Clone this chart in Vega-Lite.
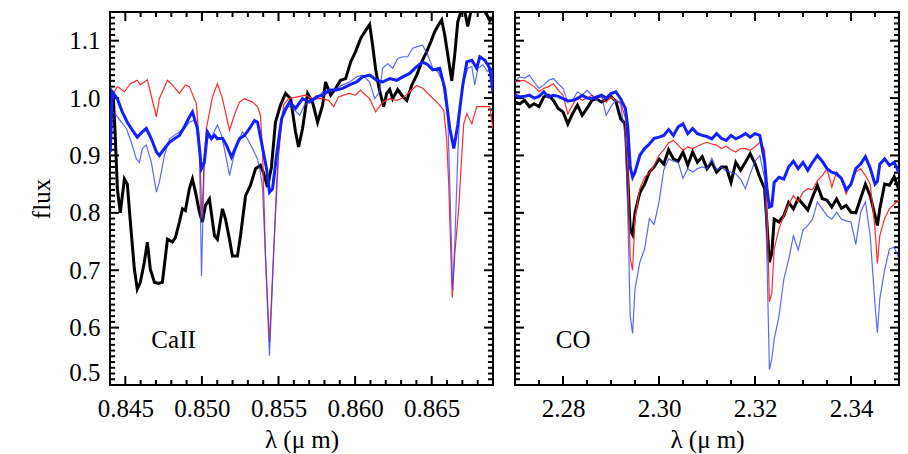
{
"$schema": "https://vega.github.io/schema/vega-lite/v6.json",
"background": "white",
"padding": {"left": 28, "top": 10, "right": 5, "bottom": 0},
"spacing": 18,
"config": {
 "view": {"stroke": "black", "strokeWidth": 2},
 "font": "Liberation Serif, Times New Roman, serif",
 "axis": {"domain": false, "ticks": false, "grid": false, "labelFont": "Liberation Serif, Times New Roman, serif", "labelFontSize": 25, "labelColor": "black", "titleFont": "Liberation Serif, Times New Roman, serif", "titleFontSize": 25, "titleFontWeight": "normal", "titleColor": "black"}
},
"datasets": {
 "L_xmaj": [{"v":0.845},{"v":0.85},{"v":0.855},{"v":0.86},{"v":0.865}],
 "L_xmin": [{"v":0.846},{"v":0.847},{"v":0.848},{"v":0.849},{"v":0.851},{"v":0.852},{"v":0.853},{"v":0.854},{"v":0.856},{"v":0.857},{"v":0.858},{"v":0.859},{"v":0.861},{"v":0.862},{"v":0.863},{"v":0.864},{"v":0.866},{"v":0.867},{"v":0.868}],
 "R_xmaj": [{"v":2.28},{"v":2.3},{"v":2.32},{"v":2.34}],
 "R_xmin": [{"v":2.275},{"v":2.285},{"v":2.29},{"v":2.295},{"v":2.305},{"v":2.31},{"v":2.315},{"v":2.325},{"v":2.33},{"v":2.335},{"v":2.345}],
 "Y_maj": [{"v":0.6},{"v":0.7},{"v":0.8},{"v":0.9},{"v":1.0},{"v":1.1}],
 "Y_min": [{"v":0.51},{"v":0.52},{"v":0.53},{"v":0.54},{"v":0.55},{"v":0.56},{"v":0.57},{"v":0.58},{"v":0.59},{"v":0.61},{"v":0.62},{"v":0.63},{"v":0.64},{"v":0.65},{"v":0.66},{"v":0.67},{"v":0.68},{"v":0.69},{"v":0.71},{"v":0.72},{"v":0.73},{"v":0.74},{"v":0.75},{"v":0.76},{"v":0.77},{"v":0.78},{"v":0.79},{"v":0.81},{"v":0.82},{"v":0.83},{"v":0.84},{"v":0.85},{"v":0.86},{"v":0.87},{"v":0.88},{"v":0.89},{"v":0.91},{"v":0.92},{"v":0.93},{"v":0.94},{"v":0.95},{"v":0.96},{"v":0.97},{"v":0.98},{"v":0.99},{"v":1.01},{"v":1.02},{"v":1.03},{"v":1.04},{"v":1.05},{"v":1.06},{"v":1.07},{"v":1.08},{"v":1.09},{"v":1.11},{"v":1.12},{"v":1.13},{"v":1.14}],
 "L_black": [{"x":0.84395,"y":0.95},{"x":0.84409,"y":0.988},{"x":0.84422,"y":0.999},{"x":0.84435,"y":0.93},{"x":0.84448,"y":0.842},{"x":0.84467,"y":0.8},{"x":0.84494,"y":0.859},{"x":0.84513,"y":0.85},{"x":0.84533,"y":0.784},{"x":0.84559,"y":0.702},{"x":0.84578,"y":0.667},{"x":0.84598,"y":0.679},{"x":0.84624,"y":0.714},{"x":0.84644,"y":0.749},{"x":0.84663,"y":0.702},{"x":0.8469,"y":0.679},{"x":0.84716,"y":0.677},{"x":0.84742,"y":0.679},{"x":0.84775,"y":0.754},{"x":0.84807,"y":0.749},{"x":0.84827,"y":0.757},{"x":0.84853,"y":0.784},{"x":0.84873,"y":0.807},{"x":0.84892,"y":0.804},{"x":0.84918,"y":0.842},{"x":0.84938,"y":0.859},{"x":0.84958,"y":0.836},{"x":0.84984,"y":0.801},{"x":0.85003,"y":0.784},{"x":0.85023,"y":0.813},{"x":0.85049,"y":0.824},{"x":0.85082,"y":0.76},{"x":0.85101,"y":0.754},{"x":0.85134,"y":0.807},{"x":0.85154,"y":0.789},{"x":0.8518,"y":0.754},{"x":0.85199,"y":0.725},{"x":0.85232,"y":0.725},{"x":0.85252,"y":0.76},{"x":0.85285,"y":0.83},{"x":0.85317,"y":0.848},{"x":0.8535,"y":0.877},{"x":0.85382,"y":0.883},{"x":0.85402,"y":0.87},{"x":0.85428,"y":0.845},{"x":0.85454,"y":0.88},{"x":0.8548,"y":0.958},{"x":0.85513,"y":0.988},{"x":0.85546,"y":1.008},{"x":0.85579,"y":0.999},{"x":0.85611,"y":0.941},{"x":0.85631,"y":0.915},{"x":0.85657,"y":0.947},{"x":0.8569,"y":1.008},{"x":0.85722,"y":0.993},{"x":0.85755,"y":0.958},{"x":0.85788,"y":0.988},{"x":0.85807,"y":1.028},{"x":0.8584,"y":1.005},{"x":0.85873,"y":1.017},{"x":0.85905,"y":1.031},{"x":0.85938,"y":1.034},{"x":0.85971,"y":1.063},{"x":0.86003,"y":1.081},{"x":0.86036,"y":1.104},{"x":0.86069,"y":1.118},{"x":0.86095,"y":1.128},{"x":0.86114,"y":1.092},{"x":0.86134,"y":1.05},{"x":0.86154,"y":1.02},{"x":0.86186,"y":0.985},{"x":0.86206,"y":1.008},{"x":0.86226,"y":1.015},{"x":0.86245,"y":0.999},{"x":0.86278,"y":1.015},{"x":0.86304,"y":1.005},{"x":0.86337,"y":0.996},{"x":0.86369,"y":1.022},{"x":0.86402,"y":1.04},{"x":0.86435,"y":1.063},{"x":0.86467,"y":1.081},{"x":0.86494,"y":1.098},{"x":0.8652,"y":1.116},{"x":0.86539,"y":1.125},{"x":0.86565,"y":1.136},{"x":0.86585,"y":1.11},{"x":0.86605,"y":1.075},{"x":0.86631,"y":1.03},{"x":0.86651,"y":1.078},{"x":0.8667,"y":1.133},{"x":0.8669,"y":1.15},{"x":0.86709,"y":1.16},{"x":0.86735,"y":1.125},{"x":0.86755,"y":1.15},{"x":0.86788,"y":1.16},{"x":0.8682,"y":1.16},{"x":0.8686,"y":1.145},{"x":0.86879,"y":1.135},{"x":0.86899,"y":1.14}],
 "L_red": [{"x":0.84395,"y":0.964},{"x":0.84428,"y":1.011},{"x":0.84448,"y":1.02},{"x":0.84494,"y":1.011},{"x":0.84533,"y":1.025},{"x":0.84578,"y":1.031},{"x":0.84598,"y":1.023},{"x":0.84644,"y":1.032},{"x":0.84663,"y":1.011},{"x":0.84703,"y":0.967},{"x":0.84722,"y":0.999},{"x":0.84775,"y":1.031},{"x":0.84807,"y":1.023},{"x":0.84853,"y":1.008},{"x":0.84892,"y":1.023},{"x":0.84918,"y":1.02},{"x":0.84964,"y":0.99},{"x":0.84984,"y":0.92},{"x":0.85,"y":0.79},{"x":0.85016,"y":0.9},{"x":0.85029,"y":0.947},{"x":0.85069,"y":1.002},{"x":0.85101,"y":1.025},{"x":0.85134,"y":0.999},{"x":0.8518,"y":0.944},{"x":0.85212,"y":0.97},{"x":0.85245,"y":0.993},{"x":0.85278,"y":0.999},{"x":0.8533,"y":0.993},{"x":0.85363,"y":0.985},{"x":0.85382,"y":0.97},{"x":0.85396,"y":0.904},{"x":0.85415,"y":0.726},{"x":0.85441,"y":0.574},{"x":0.85467,"y":0.726},{"x":0.855,"y":0.9},{"x":0.85533,"y":0.988},{"x":0.85565,"y":0.999},{"x":0.85624,"y":1.002},{"x":0.85677,"y":1.005},{"x":0.85722,"y":0.999},{"x":0.85788,"y":0.999},{"x":0.85827,"y":0.996},{"x":0.8586,"y":0.985},{"x":0.85892,"y":1.002},{"x":0.85958,"y":1.008},{"x":0.86003,"y":1.005},{"x":0.86036,"y":1.014},{"x":0.86069,"y":1.005},{"x":0.86095,"y":0.999},{"x":0.86134,"y":0.976},{"x":0.8618,"y":0.993},{"x":0.86226,"y":0.999},{"x":0.86271,"y":0.996},{"x":0.86311,"y":1.0},{"x":0.86356,"y":1.011},{"x":0.86402,"y":1.022},{"x":0.86441,"y":1.017},{"x":0.86487,"y":1.005},{"x":0.86533,"y":0.993},{"x":0.86579,"y":0.979},{"x":0.86598,"y":0.926},{"x":0.86611,"y":0.85},{"x":0.86634,"y":0.652},{"x":0.86651,"y":0.73},{"x":0.86677,"y":0.81},{"x":0.86696,"y":0.9},{"x":0.86709,"y":0.955},{"x":0.86729,"y":0.973},{"x":0.86762,"y":0.955},{"x":0.86794,"y":0.985},{"x":0.8684,"y":0.985},{"x":0.86879,"y":0.985},{"x":0.86899,"y":0.947}],
 "L_bthin": [{"x":0.84402,"y":0.9},{"x":0.84415,"y":0.976},{"x":0.84441,"y":0.97},{"x":0.84474,"y":0.958},{"x":0.84507,"y":0.947},{"x":0.84539,"y":0.923},{"x":0.84572,"y":0.894},{"x":0.84592,"y":0.888},{"x":0.84611,"y":0.912},{"x":0.84637,"y":0.918},{"x":0.8467,"y":0.888},{"x":0.84703,"y":0.836},{"x":0.84722,"y":0.853},{"x":0.84755,"y":0.9},{"x":0.84788,"y":0.929},{"x":0.8482,"y":0.935},{"x":0.84853,"y":0.941},{"x":0.84886,"y":0.947},{"x":0.84918,"y":0.958},{"x":0.84958,"y":0.962},{"x":0.84984,"y":0.906},{"x":0.84997,"y":0.69},{"x":0.85016,"y":0.894},{"x":0.85036,"y":0.929},{"x":0.85069,"y":0.935},{"x":0.85101,"y":0.953},{"x":0.85128,"y":0.935},{"x":0.8516,"y":0.894},{"x":0.8518,"y":0.865},{"x":0.85199,"y":0.888},{"x":0.85232,"y":0.923},{"x":0.85265,"y":0.941},{"x":0.85297,"y":0.929},{"x":0.8533,"y":0.912},{"x":0.85363,"y":0.894},{"x":0.85382,"y":0.87},{"x":0.85396,"y":0.842},{"x":0.85415,"y":0.72},{"x":0.85441,"y":0.551},{"x":0.85467,"y":0.72},{"x":0.85487,"y":0.85},{"x":0.85507,"y":0.935},{"x":0.85526,"y":0.976},{"x":0.85552,"y":0.988},{"x":0.85592,"y":0.982},{"x":0.85638,"y":0.97},{"x":0.8567,"y":0.988},{"x":0.85703,"y":0.993},{"x":0.85748,"y":0.999},{"x":0.85788,"y":1.011},{"x":0.85834,"y":1.011},{"x":0.85879,"y":1.017},{"x":0.85918,"y":1.023},{"x":0.85964,"y":1.028},{"x":0.8601,"y":1.037},{"x":0.86049,"y":1.04},{"x":0.86095,"y":1.028},{"x":0.86128,"y":0.999},{"x":0.8616,"y":1.011},{"x":0.8618,"y":1.052},{"x":0.86213,"y":1.06},{"x":0.86245,"y":1.052},{"x":0.86278,"y":1.069},{"x":0.86311,"y":1.072},{"x":0.86343,"y":1.072},{"x":0.86376,"y":1.087},{"x":0.86409,"y":1.09},{"x":0.86441,"y":1.092},{"x":0.86474,"y":1.075},{"x":0.86507,"y":1.052},{"x":0.86539,"y":1.046},{"x":0.86572,"y":1.028},{"x":0.86605,"y":0.964},{"x":0.86618,"y":0.85},{"x":0.86637,"y":0.665},{"x":0.86651,"y":0.75},{"x":0.8667,"y":0.9},{"x":0.86683,"y":0.976},{"x":0.86703,"y":1.023},{"x":0.86735,"y":1.052},{"x":0.86762,"y":1.055},{"x":0.86781,"y":1.023},{"x":0.86801,"y":1.052},{"x":0.86833,"y":1.058},{"x":0.86866,"y":1.046},{"x":0.86892,"y":1.052},{"x":0.86899,"y":1.03}],
 "L_bthick": [{"x":0.84402,"y":0.906},{"x":0.84415,"y":1.011},{"x":0.84448,"y":0.999},{"x":0.8448,"y":0.976},{"x":0.84513,"y":0.958},{"x":0.84546,"y":0.944},{"x":0.84578,"y":0.932},{"x":0.84611,"y":0.941},{"x":0.84637,"y":0.947},{"x":0.8467,"y":0.929},{"x":0.84703,"y":0.906},{"x":0.84722,"y":0.9},{"x":0.84755,"y":0.912},{"x":0.84788,"y":0.923},{"x":0.8482,"y":0.929},{"x":0.84853,"y":0.935},{"x":0.84886,"y":0.95},{"x":0.84918,"y":0.967},{"x":0.84938,"y":0.976},{"x":0.84971,"y":0.947},{"x":0.84997,"y":0.877},{"x":0.85016,"y":0.888},{"x":0.85036,"y":0.941},{"x":0.85062,"y":0.929},{"x":0.85082,"y":0.935},{"x":0.85101,"y":0.929},{"x":0.85134,"y":0.93},{"x":0.8516,"y":0.918},{"x":0.85193,"y":0.897},{"x":0.85212,"y":0.909},{"x":0.85245,"y":0.929},{"x":0.85278,"y":0.935},{"x":0.85311,"y":0.947},{"x":0.85343,"y":0.961},{"x":0.85363,"y":0.958},{"x":0.85389,"y":0.923},{"x":0.85422,"y":0.877},{"x":0.85441,"y":0.836},{"x":0.85461,"y":0.842},{"x":0.85487,"y":0.9},{"x":0.8552,"y":0.964},{"x":0.85546,"y":0.98},{"x":0.85572,"y":0.993},{"x":0.85611,"y":0.982},{"x":0.85657,"y":0.999},{"x":0.85703,"y":0.993},{"x":0.85748,"y":1.002},{"x":0.85788,"y":1.005},{"x":0.85834,"y":1.014},{"x":0.85879,"y":1.014},{"x":0.85918,"y":1.017},{"x":0.85964,"y":1.023},{"x":0.8601,"y":1.028},{"x":0.86049,"y":1.037},{"x":0.86095,"y":1.04},{"x":0.86141,"y":1.031},{"x":0.8618,"y":1.028},{"x":0.86226,"y":1.034},{"x":0.86271,"y":1.031},{"x":0.86311,"y":1.037},{"x":0.86356,"y":1.043},{"x":0.86402,"y":1.055},{"x":0.86441,"y":1.063},{"x":0.86474,"y":1.058},{"x":0.86507,"y":1.049},{"x":0.86552,"y":1.052},{"x":0.86585,"y":1.017},{"x":0.86618,"y":0.947},{"x":0.86644,"y":0.912},{"x":0.8667,"y":0.953},{"x":0.86703,"y":1.023},{"x":0.86729,"y":1.063},{"x":0.86762,"y":1.066},{"x":0.86794,"y":1.052},{"x":0.86814,"y":1.072},{"x":0.86847,"y":1.066},{"x":0.86879,"y":1.052},{"x":0.86899,"y":1.011}],
 "R_black": [{"x":2.27,"y":0.993},{"x":2.271,"y":0.99},{"x":2.272,"y":0.996},{"x":2.273,"y":0.985},{"x":2.274,"y":0.99},{"x":2.275,"y":0.985},{"x":2.276,"y":1.002},{"x":2.277,"y":1.005},{"x":2.278,"y":0.996},{"x":2.279,"y":0.982},{"x":2.28,"y":0.976},{"x":2.281,"y":0.955},{"x":2.282,"y":0.973},{"x":2.283,"y":0.988},{"x":2.284,"y":0.97},{"x":2.285,"y":0.982},{"x":2.286,"y":0.996},{"x":2.287,"y":0.999},{"x":2.288,"y":0.993},{"x":2.289,"y":0.997},{"x":2.29,"y":1.003},{"x":2.291,"y":0.995},{"x":2.292,"y":0.964},{"x":2.293,"y":0.955},{"x":2.2935,"y":0.86},{"x":2.294,"y":0.77},{"x":2.2945,"y":0.762},{"x":2.295,"y":0.8},{"x":2.296,"y":0.835},{"x":2.297,"y":0.85},{"x":2.298,"y":0.871},{"x":2.299,"y":0.88},{"x":2.3,"y":0.894},{"x":2.301,"y":0.885},{"x":2.302,"y":0.91},{"x":2.303,"y":0.894},{"x":2.304,"y":0.89},{"x":2.305,"y":0.906},{"x":2.306,"y":0.883},{"x":2.307,"y":0.906},{"x":2.308,"y":0.888},{"x":2.309,"y":0.898},{"x":2.31,"y":0.877},{"x":2.311,"y":0.888},{"x":2.312,"y":0.871},{"x":2.313,"y":0.88},{"x":2.314,"y":0.88},{"x":2.315,"y":0.853},{"x":2.316,"y":0.888},{"x":2.317,"y":0.874},{"x":2.318,"y":0.888},{"x":2.319,"y":0.903},{"x":2.32,"y":0.886},{"x":2.321,"y":0.862},{"x":2.322,"y":0.842},{"x":2.3225,"y":0.78},{"x":2.323,"y":0.714},{"x":2.3235,"y":0.73},{"x":2.324,"y":0.789},{"x":2.325,"y":0.784},{"x":2.326,"y":0.795},{"x":2.327,"y":0.818},{"x":2.328,"y":0.807},{"x":2.329,"y":0.825},{"x":2.33,"y":0.815},{"x":2.331,"y":0.805},{"x":2.332,"y":0.828},{"x":2.333,"y":0.848},{"x":2.334,"y":0.825},{"x":2.335,"y":0.822},{"x":2.336,"y":0.81},{"x":2.337,"y":0.824},{"x":2.338,"y":0.808},{"x":2.339,"y":0.813},{"x":2.34,"y":0.801},{"x":2.341,"y":0.8},{"x":2.342,"y":0.825},{"x":2.343,"y":0.85},{"x":2.344,"y":0.83},{"x":2.345,"y":0.795},{"x":2.3455,"y":0.778},{"x":2.346,"y":0.807},{"x":2.347,"y":0.85},{"x":2.348,"y":0.848},{"x":2.349,"y":0.863},{"x":2.35,"y":0.84}],
 "R_red": [{"x":2.27,"y":1.028},{"x":2.271,"y":1.03},{"x":2.272,"y":1.031},{"x":2.273,"y":1.025},{"x":2.274,"y":1.02},{"x":2.275,"y":1.011},{"x":2.276,"y":1.017},{"x":2.277,"y":1.02},{"x":2.278,"y":1.025},{"x":2.279,"y":1.014},{"x":2.28,"y":1.005},{"x":2.281,"y":0.972},{"x":2.282,"y":0.988},{"x":2.283,"y":1.002},{"x":2.284,"y":0.996},{"x":2.285,"y":1.0},{"x":2.286,"y":1.005},{"x":2.287,"y":1.0},{"x":2.288,"y":1.002},{"x":2.289,"y":0.993},{"x":2.29,"y":1.002},{"x":2.291,"y":0.995},{"x":2.292,"y":0.993},{"x":2.293,"y":0.965},{"x":2.2935,"y":0.88},{"x":2.294,"y":0.72},{"x":2.2945,"y":0.7},{"x":2.295,"y":0.79},{"x":2.296,"y":0.842},{"x":2.297,"y":0.862},{"x":2.298,"y":0.87},{"x":2.299,"y":0.883},{"x":2.3,"y":0.9},{"x":2.301,"y":0.91},{"x":2.302,"y":0.922},{"x":2.303,"y":0.926},{"x":2.304,"y":0.918},{"x":2.305,"y":0.909},{"x":2.306,"y":0.915},{"x":2.307,"y":0.912},{"x":2.308,"y":0.916},{"x":2.309,"y":0.92},{"x":2.31,"y":0.923},{"x":2.311,"y":0.92},{"x":2.312,"y":0.918},{"x":2.313,"y":0.912},{"x":2.314,"y":0.916},{"x":2.315,"y":0.91},{"x":2.316,"y":0.906},{"x":2.317,"y":0.912},{"x":2.318,"y":0.912},{"x":2.319,"y":0.909},{"x":2.32,"y":0.915},{"x":2.321,"y":0.923},{"x":2.322,"y":0.91},{"x":2.3225,"y":0.8},{"x":2.323,"y":0.645},{"x":2.3235,"y":0.66},{"x":2.324,"y":0.737},{"x":2.325,"y":0.772},{"x":2.326,"y":0.795},{"x":2.327,"y":0.815},{"x":2.328,"y":0.83},{"x":2.329,"y":0.819},{"x":2.33,"y":0.836},{"x":2.331,"y":0.842},{"x":2.332,"y":0.84},{"x":2.333,"y":0.856},{"x":2.334,"y":0.865},{"x":2.335,"y":0.877},{"x":2.336,"y":0.845},{"x":2.337,"y":0.871},{"x":2.338,"y":0.859},{"x":2.339,"y":0.833},{"x":2.34,"y":0.853},{"x":2.341,"y":0.871},{"x":2.342,"y":0.877},{"x":2.343,"y":0.865},{"x":2.344,"y":0.85},{"x":2.345,"y":0.772},{"x":2.3455,"y":0.712},{"x":2.346,"y":0.76},{"x":2.347,"y":0.79},{"x":2.348,"y":0.807},{"x":2.349,"y":0.815},{"x":2.35,"y":0.822}],
 "R_bthin": [{"x":2.27,"y":1.03},{"x":2.271,"y":1.037},{"x":2.272,"y":1.035},{"x":2.273,"y":1.04},{"x":2.274,"y":1.028},{"x":2.275,"y":1.017},{"x":2.276,"y":1.023},{"x":2.277,"y":1.031},{"x":2.278,"y":1.034},{"x":2.279,"y":1.025},{"x":2.28,"y":1.017},{"x":2.281,"y":0.993},{"x":2.282,"y":0.996},{"x":2.283,"y":1.011},{"x":2.284,"y":1.005},{"x":2.285,"y":1.014},{"x":2.286,"y":1.005},{"x":2.287,"y":0.996},{"x":2.288,"y":1.005},{"x":2.289,"y":0.97},{"x":2.29,"y":0.985},{"x":2.291,"y":0.997},{"x":2.292,"y":0.99},{"x":2.293,"y":0.93},{"x":2.2935,"y":0.8},{"x":2.294,"y":0.62},{"x":2.2945,"y":0.59},{"x":2.295,"y":0.667},{"x":2.296,"y":0.714},{"x":2.297,"y":0.737},{"x":2.298,"y":0.79},{"x":2.299,"y":0.78},{"x":2.3,"y":0.819},{"x":2.301,"y":0.875},{"x":2.302,"y":0.894},{"x":2.303,"y":0.89},{"x":2.304,"y":0.888},{"x":2.305,"y":0.86},{"x":2.306,"y":0.877},{"x":2.307,"y":0.871},{"x":2.308,"y":0.877},{"x":2.309,"y":0.88},{"x":2.31,"y":0.877},{"x":2.311,"y":0.895},{"x":2.312,"y":0.875},{"x":2.313,"y":0.88},{"x":2.314,"y":0.872},{"x":2.315,"y":0.871},{"x":2.316,"y":0.868},{"x":2.317,"y":0.859},{"x":2.318,"y":0.842},{"x":2.319,"y":0.868},{"x":2.32,"y":0.89},{"x":2.321,"y":0.9},{"x":2.322,"y":0.86},{"x":2.3225,"y":0.72},{"x":2.323,"y":0.527},{"x":2.3235,"y":0.545},{"x":2.324,"y":0.58},{"x":2.325,"y":0.62},{"x":2.326,"y":0.684},{"x":2.327,"y":0.718},{"x":2.328,"y":0.76},{"x":2.329,"y":0.735},{"x":2.33,"y":0.77},{"x":2.331,"y":0.778},{"x":2.332,"y":0.789},{"x":2.333,"y":0.819},{"x":2.334,"y":0.807},{"x":2.335,"y":0.795},{"x":2.336,"y":0.789},{"x":2.337,"y":0.801},{"x":2.338,"y":0.789},{"x":2.339,"y":0.786},{"x":2.34,"y":0.784},{"x":2.341,"y":0.745},{"x":2.342,"y":0.801},{"x":2.343,"y":0.819},{"x":2.344,"y":0.76},{"x":2.345,"y":0.64},{"x":2.3455,"y":0.591},{"x":2.346,"y":0.65},{"x":2.347,"y":0.7},{"x":2.348,"y":0.737},{"x":2.349,"y":0.74},{"x":2.35,"y":0.72}],
 "R_bthick": [{"x":2.27,"y":1.005},{"x":2.271,"y":1.002},{"x":2.272,"y":1.003},{"x":2.273,"y":1.005},{"x":2.274,"y":1.0},{"x":2.275,"y":1.003},{"x":2.276,"y":1.011},{"x":2.277,"y":1.002},{"x":2.278,"y":1.005},{"x":2.279,"y":1.003},{"x":2.28,"y":0.999},{"x":2.281,"y":0.995},{"x":2.282,"y":0.996},{"x":2.283,"y":0.999},{"x":2.284,"y":1.005},{"x":2.285,"y":1.0},{"x":2.286,"y":0.999},{"x":2.287,"y":1.002},{"x":2.288,"y":1.005},{"x":2.289,"y":1.0},{"x":2.29,"y":1.008},{"x":2.291,"y":1.011},{"x":2.292,"y":0.999},{"x":2.293,"y":0.982},{"x":2.2935,"y":0.95},{"x":2.294,"y":0.88},{"x":2.2945,"y":0.862},{"x":2.295,"y":0.871},{"x":2.296,"y":0.9},{"x":2.297,"y":0.912},{"x":2.298,"y":0.92},{"x":2.299,"y":0.93},{"x":2.3,"y":0.932},{"x":2.301,"y":0.935},{"x":2.302,"y":0.945},{"x":2.303,"y":0.935},{"x":2.304,"y":0.95},{"x":2.305,"y":0.955},{"x":2.306,"y":0.938},{"x":2.307,"y":0.947},{"x":2.308,"y":0.938},{"x":2.309,"y":0.935},{"x":2.31,"y":0.933},{"x":2.311,"y":0.929},{"x":2.312,"y":0.938},{"x":2.313,"y":0.93},{"x":2.314,"y":0.926},{"x":2.315,"y":0.935},{"x":2.316,"y":0.929},{"x":2.317,"y":0.933},{"x":2.318,"y":0.938},{"x":2.319,"y":0.932},{"x":2.32,"y":0.938},{"x":2.321,"y":0.935},{"x":2.322,"y":0.89},{"x":2.3225,"y":0.842},{"x":2.323,"y":0.81},{"x":2.3235,"y":0.812},{"x":2.324,"y":0.853},{"x":2.325,"y":0.862},{"x":2.326,"y":0.859},{"x":2.327,"y":0.88},{"x":2.328,"y":0.89},{"x":2.329,"y":0.877},{"x":2.33,"y":0.888},{"x":2.331,"y":0.874},{"x":2.332,"y":0.888},{"x":2.333,"y":0.9},{"x":2.334,"y":0.89},{"x":2.335,"y":0.877},{"x":2.336,"y":0.871},{"x":2.337,"y":0.868},{"x":2.338,"y":0.86},{"x":2.339,"y":0.84},{"x":2.34,"y":0.85},{"x":2.341,"y":0.877},{"x":2.342,"y":0.885},{"x":2.343,"y":0.898},{"x":2.344,"y":0.878},{"x":2.345,"y":0.85},{"x":2.3455,"y":0.855},{"x":2.346,"y":0.885},{"x":2.347,"y":0.894},{"x":2.348,"y":0.883},{"x":2.349,"y":0.888},{"x":2.35,"y":0.87}],
 "L_lab": [{"t":"CaII","x":0.8467,"y":0.565}],
 "R_lab": [{"t":"CO","x":2.2785,"y":0.565}]
},
"hconcat": [
 {
  "width": 383, "height": 373,
  "encoding": {
   "x": {"type": "quantitative", "scale": {"domain": [0.844, 0.869], "nice": false, "zero": false},
    "axis": {"orient": "bottom", "values": [0.845,0.85,0.855,0.86,0.865], "format": ".3f", "labelPadding": 11, "labelFlush": false, "title": "λ (μ m)", "titlePadding": 6}},
   "y": {"type": "quantitative", "scale": {"domain": [0.5, 1.15], "nice": false, "zero": false},
    "axis": {"orient": "left", "values": [0.5,0.6,0.7,0.8,0.9,1.0,1.1], "format": ".1f", "labelPadding": 10, "labelFlush": true, "title": "flux", "titlePadding": 14}}
  },
  "layer": [
   {"data": {"name": "L_xmaj"}, "mark": {"type": "rule", "color": "black", "strokeWidth": 2},
    "encoding": {"x": {"field": "v", "type": "quantitative"}, "y": {"datum": 0.5, "type": "quantitative"}, "y2": {"datum": 0.5157}}},
   {"data": {"name": "L_xmaj"}, "mark": {"type": "rule", "color": "black", "strokeWidth": 2},
    "encoding": {"x": {"field": "v", "type": "quantitative"}, "y": {"datum": 1.15, "type": "quantitative"}, "y2": {"datum": 1.1343}}},
   {"data": {"name": "L_xmin"}, "mark": {"type": "rule", "color": "black", "strokeWidth": 2},
    "encoding": {"x": {"field": "v", "type": "quantitative"}, "y": {"datum": 0.5, "type": "quantitative"}, "y2": {"datum": 0.5087}}},
   {"data": {"name": "L_xmin"}, "mark": {"type": "rule", "color": "black", "strokeWidth": 2},
    "encoding": {"x": {"field": "v", "type": "quantitative"}, "y": {"datum": 1.15, "type": "quantitative"}, "y2": {"datum": 1.1413}}},
   {"data": {"name": "Y_maj"}, "mark": {"type": "rule", "color": "black", "strokeWidth": 2},
    "encoding": {"y": {"field": "v", "type": "quantitative"}, "x": {"datum": 0.844, "type": "quantitative"}, "x2": {"datum": 0.84459}}},
   {"data": {"name": "Y_maj"}, "mark": {"type": "rule", "color": "black", "strokeWidth": 2},
    "encoding": {"y": {"field": "v", "type": "quantitative"}, "x": {"datum": 0.869, "type": "quantitative"}, "x2": {"datum": 0.86841}}},
   {"data": {"name": "Y_min"}, "mark": {"type": "rule", "color": "black", "strokeWidth": 2},
    "encoding": {"y": {"field": "v", "type": "quantitative"}, "x": {"datum": 0.844, "type": "quantitative"}, "x2": {"datum": 0.84433}}},
   {"data": {"name": "Y_min"}, "mark": {"type": "rule", "color": "black", "strokeWidth": 2},
    "encoding": {"y": {"field": "v", "type": "quantitative"}, "x": {"datum": 0.869, "type": "quantitative"}, "x2": {"datum": 0.86867}}},
   {"data": {"name": "L_black"}, "mark": {"type": "line", "color": "black", "strokeWidth": 3, "clip": true},
    "encoding": {"x": {"field": "x", "type": "quantitative"}, "y": {"field": "y", "type": "quantitative"}}},
   {"data": {"name": "L_red"}, "mark": {"type": "line", "color": "#ff2a2a", "strokeWidth": 1.2, "clip": true},
    "encoding": {"x": {"field": "x", "type": "quantitative"}, "y": {"field": "y", "type": "quantitative"}}},
   {"data": {"name": "L_bthin"}, "mark": {"type": "line", "color": "#3344ff", "strokeWidth": 1.2, "opacity": 0.8, "clip": true},
    "encoding": {"x": {"field": "x", "type": "quantitative"}, "y": {"field": "y", "type": "quantitative"}}},
   {"data": {"name": "L_bthick"}, "mark": {"type": "line", "color": "#1020ff", "strokeWidth": 3, "clip": true},
    "encoding": {"x": {"field": "x", "type": "quantitative"}, "y": {"field": "y", "type": "quantitative"}}},
   {"data": {"name": "L_lab"}, "mark": {"type": "text", "align": "left", "baseline": "alphabetic", "fontSize": 25, "font": "Liberation Serif, Times New Roman, serif", "color": "black"},
    "encoding": {"x": {"field": "x", "type": "quantitative"}, "y": {"field": "y", "type": "quantitative"}, "text": {"field": "t"}}}
  ]
 },
 {
  "width": 384, "height": 373,
  "encoding": {
   "x": {"type": "quantitative", "scale": {"domain": [2.27, 2.35], "nice": false, "zero": false},
    "axis": {"orient": "bottom", "values": [2.28,2.3,2.32,2.34], "format": ".2f", "labelPadding": 11, "labelFlush": false, "title": "λ (μ m)", "titlePadding": 6}},
   "y": {"type": "quantitative", "scale": {"domain": [0.5, 1.15], "nice": false, "zero": false}, "axis": null}
  },
  "layer": [
   {"data": {"name": "R_xmaj"}, "mark": {"type": "rule", "color": "black", "strokeWidth": 2},
    "encoding": {"x": {"field": "v", "type": "quantitative"}, "y": {"datum": 0.5, "type": "quantitative"}, "y2": {"datum": 0.5157}}},
   {"data": {"name": "R_xmaj"}, "mark": {"type": "rule", "color": "black", "strokeWidth": 2},
    "encoding": {"x": {"field": "v", "type": "quantitative"}, "y": {"datum": 1.15, "type": "quantitative"}, "y2": {"datum": 1.1343}}},
   {"data": {"name": "R_xmin"}, "mark": {"type": "rule", "color": "black", "strokeWidth": 2},
    "encoding": {"x": {"field": "v", "type": "quantitative"}, "y": {"datum": 0.5, "type": "quantitative"}, "y2": {"datum": 0.5087}}},
   {"data": {"name": "R_xmin"}, "mark": {"type": "rule", "color": "black", "strokeWidth": 2},
    "encoding": {"x": {"field": "v", "type": "quantitative"}, "y": {"datum": 1.15, "type": "quantitative"}, "y2": {"datum": 1.1413}}},
   {"data": {"name": "Y_maj"}, "mark": {"type": "rule", "color": "black", "strokeWidth": 2},
    "encoding": {"y": {"field": "v", "type": "quantitative"}, "x": {"datum": 2.27, "type": "quantitative"}, "x2": {"datum": 2.271875}}},
   {"data": {"name": "Y_maj"}, "mark": {"type": "rule", "color": "black", "strokeWidth": 2},
    "encoding": {"y": {"field": "v", "type": "quantitative"}, "x": {"datum": 2.35, "type": "quantitative"}, "x2": {"datum": 2.348125}}},
   {"data": {"name": "Y_min"}, "mark": {"type": "rule", "color": "black", "strokeWidth": 2},
    "encoding": {"y": {"field": "v", "type": "quantitative"}, "x": {"datum": 2.27, "type": "quantitative"}, "x2": {"datum": 2.27104}}},
   {"data": {"name": "Y_min"}, "mark": {"type": "rule", "color": "black", "strokeWidth": 2},
    "encoding": {"y": {"field": "v", "type": "quantitative"}, "x": {"datum": 2.35, "type": "quantitative"}, "x2": {"datum": 2.34896}}},
   {"data": {"name": "R_black"}, "mark": {"type": "line", "color": "black", "strokeWidth": 3, "clip": true},
    "encoding": {"x": {"field": "x", "type": "quantitative"}, "y": {"field": "y", "type": "quantitative"}}},
   {"data": {"name": "R_red"}, "mark": {"type": "line", "color": "#ff2a2a", "strokeWidth": 1.2, "clip": true},
    "encoding": {"x": {"field": "x", "type": "quantitative"}, "y": {"field": "y", "type": "quantitative"}}},
   {"data": {"name": "R_bthin"}, "mark": {"type": "line", "color": "#3344ff", "strokeWidth": 1.2, "opacity": 0.8, "clip": true},
    "encoding": {"x": {"field": "x", "type": "quantitative"}, "y": {"field": "y", "type": "quantitative"}}},
   {"data": {"name": "R_bthick"}, "mark": {"type": "line", "color": "#1020ff", "strokeWidth": 3, "clip": true},
    "encoding": {"x": {"field": "x", "type": "quantitative"}, "y": {"field": "y", "type": "quantitative"}}},
   {"data": {"name": "R_lab"}, "mark": {"type": "text", "align": "left", "baseline": "alphabetic", "fontSize": 25, "font": "Liberation Serif, Times New Roman, serif", "color": "black"},
    "encoding": {"x": {"field": "x", "type": "quantitative"}, "y": {"field": "y", "type": "quantitative"}, "text": {"field": "t"}}}
  ]
 }
]
}
